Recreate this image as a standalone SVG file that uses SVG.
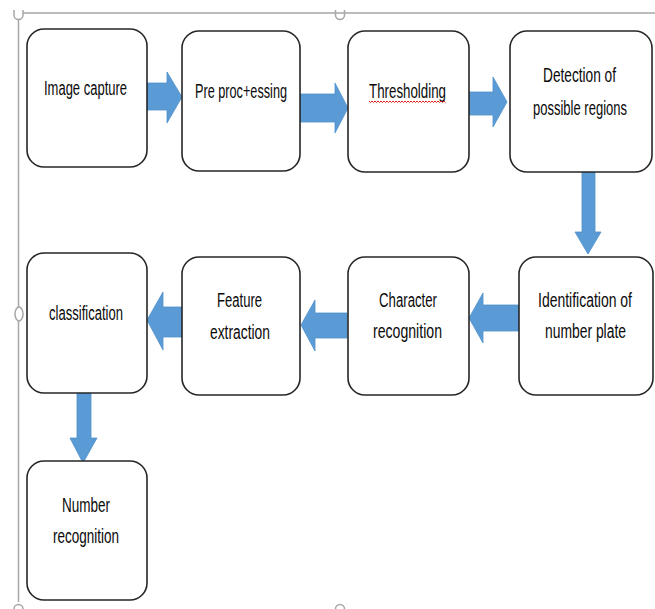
<svg xmlns="http://www.w3.org/2000/svg" width="655" height="609" viewBox="0 0 655 609">
  <style>
    .box { fill: #ffffff; stroke: #262626; stroke-width: 1.6; }
    .arrow { fill: #5B9BD5; stroke: #4F8FCB; stroke-width: 0.8; stroke-linejoin: miter; }
    .lbl { font-family: "Liberation Sans", Arial, sans-serif; font-size: 19.5px; fill: #0a0a0a; }
    .frame { fill: none; stroke: #A6A6A6; stroke-width: 1.5; }
    .handle { fill: #ffffff; stroke: #A6A6A6; stroke-width: 1.5; }
    .squiggle { fill: none; stroke: #E02020; stroke-width: 1; }
  </style>

  <rect width="655" height="609" fill="#ffffff"/>

  <!-- canvas frame with resize handles -->
  <g id="frame">
    <line class="frame" x1="23" y1="13" x2="655" y2="13"/>
    <line class="frame" x1="18.5" y1="20" x2="18.5" y2="602"/>
    <path class="frame" d="M14,10 v5 a4.5,4.5 0 0 0 9,0 v-5"/>
    <path class="frame" d="M335.5,10 v5 a4.5,4.5 0 0 0 9,0 v-5"/>
    <ellipse class="handle" cx="19" cy="314" rx="4" ry="7"/>
    <path class="frame" d="M14,609 a4.5,4.5 0 0 1 9,0"/>
    <path class="frame" d="M335.5,609 a4.5,4.5 0 0 1 9,0"/>
  </g>

  <!-- connectors: block arrows -->
  <g id="connectors">
    <polygon class="arrow" points="147,83 167,83 167,72 182,97 167,123 167,110 147,110"/>
    <polygon class="arrow" points="300,94 335,94 335,83 348,108 335,133 335,122 300,122"/>
    <polygon class="arrow" points="469,92 493,92 493,77 507,102 493,127 493,115 469,115"/>
    <polygon class="arrow" points="582,172 595,172 595,232 601,232 588,254 575,232 582,232"/>
    <polygon class="arrow" points="519,305 483,305 483,293 469,318 483,343 483,331 519,331"/>
    <polygon class="arrow" points="347,313 315,313 315,300 301,325 315,351 315,338 347,338"/>
    <polygon class="arrow" points="182,307 163,307 163,292 147,320 163,350 163,337 182,337"/>
    <polygon class="arrow" points="77,393 91,393 91,438 97,438 83,463 70,438 77,438"/>
  </g>

  <!-- process steps -->
  <g id="image-capture">
    <rect class="box" x="27" y="29" width="120" height="138" rx="17"/>
    <text class="lbl" x="44" y="95" textLength="83" lengthAdjust="spacingAndGlyphs">Image capture</text>
  </g>

  <g id="pre-processing">
    <rect class="box" x="182" y="31" width="118" height="140" rx="17"/>
    <text class="lbl" x="195" y="98" textLength="92" lengthAdjust="spacingAndGlyphs">Pre proc+essing</text>
  </g>

  <g id="thresholding">
    <rect class="box" x="348" y="31" width="121" height="141" rx="17"/>
    <text class="lbl" x="369" y="98" textLength="77" lengthAdjust="spacingAndGlyphs">Thresholding</text>
    <path class="squiggle" d="M369,101 l1.5,1.5 l1.5,-1.5 l1.5,1.5 l1.5,-1.5 l1.5,1.5 l1.5,-1.5 l1.5,1.5 l1.5,-1.5 l1.5,1.5 l1.5,-1.5 l1.5,1.5 l1.5,-1.5 l1.5,1.5 l1.5,-1.5 l1.5,1.5 l1.5,-1.5 l1.5,1.5 l1.5,-1.5 l1.5,1.5 l1.5,-1.5 l1.5,1.5 l1.5,-1.5 l1.5,1.5 l1.5,-1.5 l1.5,1.5 l1.5,-1.5 l1.5,1.5 l1.5,-1.5 l1.5,1.5 l1.5,-1.5 l1.5,1.5 l1.5,-1.5 l1.5,1.5 l1.5,-1.5 l1.5,1.5 l1.5,-1.5 l1.5,1.5 l1.5,-1.5 l1.5,1.5 l1.5,-1.5 l1.5,1.5 l1.5,-1.5 l1.5,1.5 l1.5,-1.5 l1.5,1.5 l1.5,-1.5 l1.5,1.5 l1.5,-1.5 l1.5,1.5 l1.5,-1.5 l1.5,1.5"/>
  </g>

  <g id="detection">
    <rect class="box" x="510" y="31" width="142" height="141" rx="17"/>
    <text class="lbl" x="543" y="82" textLength="73" lengthAdjust="spacingAndGlyphs">Detection of</text>
    <text class="lbl" x="533" y="115" textLength="94" lengthAdjust="spacingAndGlyphs">possible regions</text>
  </g>

  <g id="identification">
    <rect class="box" x="519" y="257" width="134" height="138" rx="17"/>
    <text class="lbl" x="538" y="307" textLength="94" lengthAdjust="spacingAndGlyphs">Identification of</text>
    <text class="lbl" x="545" y="338" textLength="81" lengthAdjust="spacingAndGlyphs">number plate</text>
  </g>

  <g id="character-recognition">
    <rect class="box" x="348" y="257" width="121" height="138" rx="17"/>
    <text class="lbl" x="379" y="307" textLength="58" lengthAdjust="spacingAndGlyphs">Character</text>
    <text class="lbl" x="373" y="338" textLength="69" lengthAdjust="spacingAndGlyphs">recognition</text>
  </g>

  <g id="feature-extraction">
    <rect class="box" x="182" y="257" width="118" height="138" rx="17"/>
    <text class="lbl" x="217" y="307" textLength="45" lengthAdjust="spacingAndGlyphs">Feature</text>
    <text class="lbl" x="210" y="339" textLength="60" lengthAdjust="spacingAndGlyphs">extraction</text>
  </g>

  <g id="classification">
    <rect class="box" x="27" y="253" width="120" height="140" rx="17"/>
    <text class="lbl" x="49" y="320" textLength="74" lengthAdjust="spacingAndGlyphs">classification</text>
  </g>

  <g id="number-recognition">
    <rect class="box" x="27" y="461" width="120" height="139" rx="17"/>
    <text class="lbl" x="62" y="512" textLength="48" lengthAdjust="spacingAndGlyphs">Number</text>
    <text class="lbl" x="53" y="543" textLength="66" lengthAdjust="spacingAndGlyphs">recognition</text>
  </g>
</svg>
